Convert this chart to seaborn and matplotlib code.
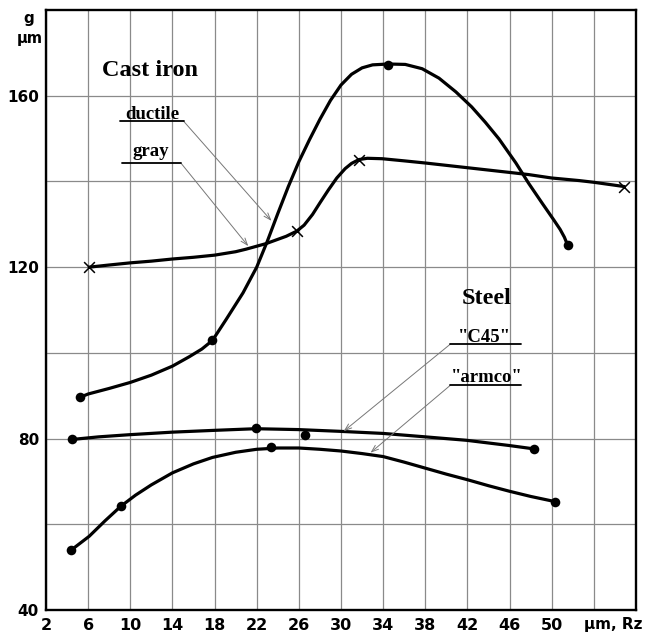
import matplotlib
matplotlib.use("Agg")
import matplotlib.pyplot as plt
import seaborn as sns
import numpy as np

# ---- data ----
gray_curve_x = [6.1, 8.0, 10.0, 12.0, 14.0, 16.0, 18.0, 20.0, 21.0, 22.9, 24.8, 25.8, 26.5, 27.3, 28.0, 28.8, 29.6, 30.4, 31.0, 31.7, 32.5, 33.9, 36.0, 38.0, 42.0, 46.0, 47.8, 50.0, 52.6, 54.0, 56.9]
gray_curve_y = [120.0, 120.5, 121.0, 121.4, 121.9, 122.3, 122.8, 123.6, 124.2, 125.5, 127.2, 128.4, 129.8, 132.3, 135.0, 138.0, 140.8, 143.0, 144.2, 145.1, 145.4, 145.3, 144.8, 144.3, 143.2, 142.1, 141.6, 140.8, 140.2, 139.8, 138.8]
gray_pts_x = [6.1, 25.8, 31.7, 56.9]
gray_pts_y = [120.0, 128.4, 145.1, 138.8]

ductile_curve_x = [5.2, 6.0, 8.0, 10.0, 12.0, 14.0, 15.6, 16.8, 17.8, 19.1, 20.7, 22.0, 23.0, 24.0, 25.0, 26.0, 27.0, 28.0, 29.0, 30.0, 31.0, 32.0, 33.0, 34.5, 36.1, 37.7, 39.3, 40.9, 42.4, 43.7, 45.0, 46.6, 47.8, 49.1, 50.2, 50.8, 51.2, 51.5]
ductile_curve_y = [89.6, 90.4, 91.7, 93.1, 94.8, 96.9, 99.1, 100.9, 102.9, 107.8, 114.0, 120.0, 126.0, 132.5, 138.8, 144.6, 149.7, 154.5, 158.9, 162.5, 165.0, 166.5, 167.2, 167.4, 167.3, 166.3, 164.1, 160.9, 157.4, 153.8, 149.9, 144.3, 139.6, 134.9, 131.0, 128.8, 127.0, 125.2]
ductile_pts_x = [5.2, 17.8, 34.5, 51.5]
ductile_pts_y = [89.6, 102.9, 167.1, 125.2]

c45_curve_x = [4.5, 7.0, 9.9, 14.0, 17.8, 21.9, 25.9, 29.8, 34.0, 38.0, 41.9, 45.9, 48.3]
c45_curve_y = [79.8, 80.4, 80.9, 81.5, 81.9, 82.3, 82.1, 81.7, 81.2, 80.4, 79.6, 78.4, 77.6]
c45_pts_x = [4.5, 21.9, 26.6, 48.3]
c45_pts_y = [79.8, 82.4, 80.9, 77.6]

armco_curve_x = [4.4, 6.1, 7.6, 9.1, 10.5, 12.0, 14.0, 16.0, 17.8, 20.0, 22.0, 24.0, 26.0, 28.0, 30.0, 32.0, 34.0, 36.0, 38.0, 40.0, 42.0, 44.0, 46.0, 48.0, 50.3]
armco_curve_y = [54.0, 57.2, 60.8, 64.2, 66.8, 69.2, 72.0, 74.1, 75.6, 76.8, 77.5, 77.8, 77.8, 77.5, 77.1, 76.5, 75.8, 74.5, 73.1, 71.7, 70.4, 69.0, 67.7, 66.5, 65.3]
armco_pts_x = [4.4, 9.1, 23.4, 50.3]
armco_pts_y = [54.0, 64.2, 78.1, 65.3]

x_tick_vals = [2, 6, 10, 14, 18, 22, 26, 30, 34, 38, 42, 46, 50]
y_tick_vals = [40, 80, 120, 160]

# ---- figure ----
sns.set_style("white")
plt.rcParams['font.family'] = ['DejaVu Sans']
plt.rcParams['text.color'] = 'black'
plt.rcParams['xtick.color'] = 'black'
plt.rcParams['ytick.color'] = 'black'
plt.rcParams['xtick.labelcolor'] = 'black'
plt.rcParams['ytick.labelcolor'] = 'black'

fig = plt.figure(figsize=(6.5, 6.32), dpi=100)
ax = fig.add_axes([46/650, 1-610/632, (636-46)/650, (610-10)/632])

lw = 2.3
for cx, cy in [(gray_curve_x, gray_curve_y), (ductile_curve_x, ductile_curve_y),
               (c45_curve_x, c45_curve_y), (armco_curve_x, armco_curve_y)]:
    sns.lineplot(x=cx, y=cy, sort=False, estimator=None, color='black', lw=lw, ax=ax, zorder=3,
                 solid_joinstyle='round', solid_capstyle='round')

for px, py in [(ductile_pts_x, ductile_pts_y), (c45_pts_x, c45_pts_y), (armco_pts_x, armco_pts_y)]:
    sns.scatterplot(x=px, y=py, color='black', s=48, marker='o', edgecolor='black', linewidth=0, ax=ax, zorder=4)
sns.scatterplot(x=gray_pts_x, y=gray_pts_y, color='black', s=60, marker='x', linewidth=1.1, ax=ax, zorder=4)

ax.set_xlim(2, 58)
ax.set_ylim(40, 180)
ax.set_xticks(x_tick_vals)
ax.set_xticklabels([str(v) for v in x_tick_vals])
ax.set_xticks([54], minor=True)
ax.set_yticks(y_tick_vals)
ax.set_yticklabels([str(v) for v in y_tick_vals])
ax.set_yticks([60, 100, 140], minor=True)
ax.grid(True, which='both', color='#8a8a8a', lw=0.9, zorder=0)
ax.set_axisbelow(True)
ax.tick_params(axis='x', which='major', length=3, width=1, pad=3, labelsize=11.5, colors='black')
ax.tick_params(axis='y', which='major', length=3, width=1, pad=2, labelsize=11, colors='black')
ax.tick_params(which='minor', length=0)
for lab in ax.get_xticklabels() + ax.get_yticklabels():
    lab.set_fontweight('bold')
for sp in ax.spines.values():
    sp.set_linewidth(1.7)
    sp.set_color('black')
ax.set_xlabel('')
ax.set_ylabel('')

# axis unit labels
fig.text(29/650, 1-18/632, 'g', ha='center', va='center', fontsize=11, fontweight='bold', color='black')
fig.text(30/650, 1-39/632, 'µm', ha='center', va='center', fontsize=10.5, fontweight='bold', color='black')
fig.text(613/650, 1-624/632, 'µm, Rz', ha='center', va='center', fontsize=11, fontweight='bold', color='black')

# annotations
serif = ['Liberation Serif', 'DejaVu Serif']
tkw = dict(family=serif, fontweight='bold', ha='center', va='baseline', color='black')
ax.text(11.86, 164.6, 'Cast iron', fontsize=17.5, **tkw)
ax.text(43.8, 111.3, 'Steel', fontsize=17.5, **tkw)

ax.text(12.1, 154.6, 'ductile', fontsize=13.5, **tkw)
ax.text(11.95, 145.9, 'gray', fontsize=13.5, **tkw)
ax.text(43.6, 102.5, '"C45"', fontsize=13.5, **tkw)
ax.text(43.8, 93.2, '"armco"', fontsize=13.5, **tkw)

ul_kw = dict(color='black', lw=1.3, zorder=5)
ax.plot([8.99, 15.08], [154.0, 154.0], **ul_kw)
ax.plot([9.2, 14.8], [144.3, 144.3], **ul_kw)
ax.plot([40.36, 47.09], [102.0, 102.0], **ul_kw)
ax.plot([40.36, 47.09], [92.4, 92.4], **ul_kw)

arr = dict(arrowstyle='->,head_length=0.5,head_width=0.18', color='#777777', lw=0.7, shrinkA=0, shrinkB=0)
ax.annotate('', xy=(23.4, 130.8), xytext=(15.08, 154.0), arrowprops=arr)
ax.annotate('', xy=(21.2, 124.9), xytext=(14.8, 144.3), arrowprops=arr)
ax.annotate('', xy=(30.25, 81.7), xytext=(40.36, 102.0), arrowprops=arr)
ax.annotate('', xy=(32.8, 76.7), xytext=(40.36, 92.4), arrowprops=arr)

fig.savefig('out.png', dpi=100)
